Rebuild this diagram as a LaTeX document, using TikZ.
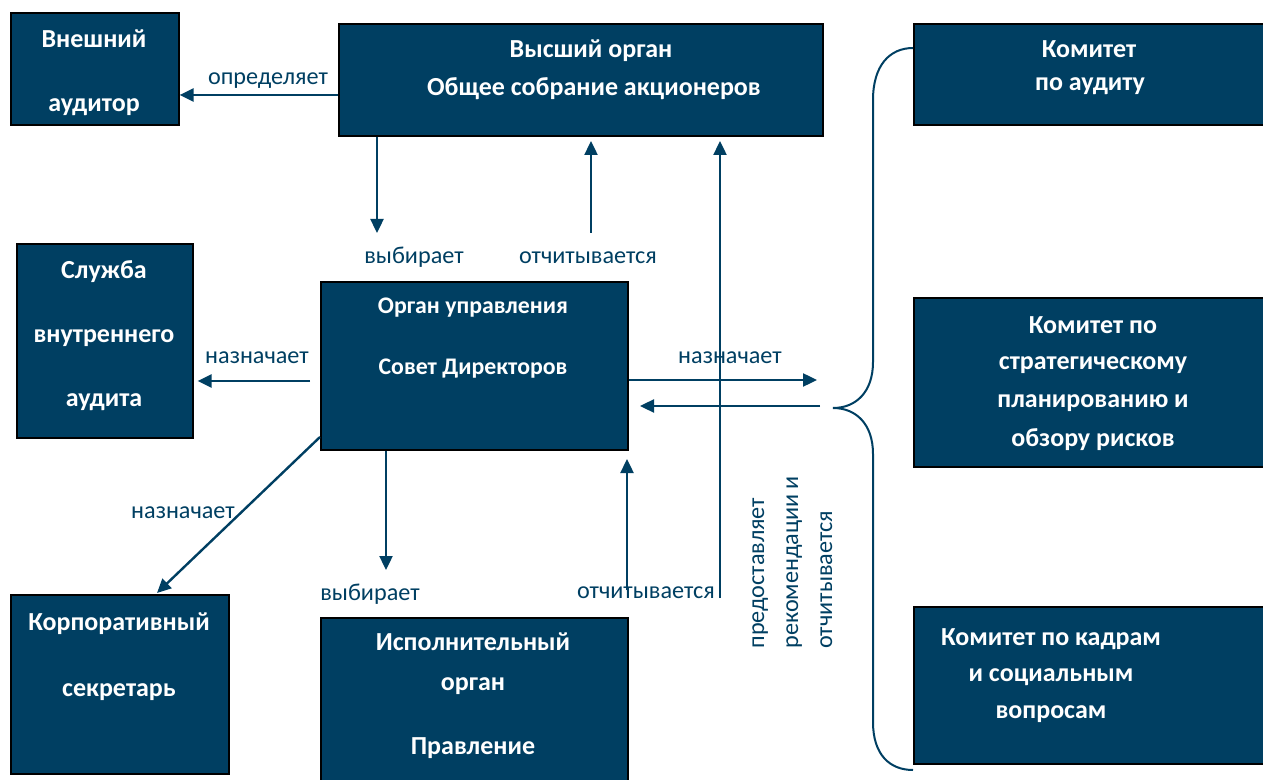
\documentclass[tikz,border=0pt]{standalone}
\usepackage{fontspec}
\setmainfont{Carlito}
\usetikzlibrary{arrows.meta}
\definecolor{navy}{RGB}{0,63,98}
\begin{document}
\begin{tikzpicture}[x=0.5pt,y=-0.5pt,
 box/.style={draw=black,line width=0.8pt,fill=navy,anchor=north west,inner sep=0pt},
 bt/.style={text=white,font=\bfseries\fontsize{13}{15}\selectfont,anchor=base,inner sep=0pt,yshift=-1pt},
 bts/.style={bt,font=\bfseries\fontsize{11.9}{14}\selectfont},
 lbl/.style={text=navy,font=\fontsize{12.1}{14}\selectfont,anchor=base,inner sep=0pt},
 arr/.style={draw=navy,line width=1.2pt,-{Triangle[length=7pt,width=6.5pt]}},
]
\useasboundingbox (0,0) rectangle (1263,780);

% boxes
\node[box,minimum width=84pt,minimum height=56pt] (ext) at (10,12) {};
\node[box,minimum width=242pt,minimum height=56pt] (top) at (338,23) {};
\node[box,minimum width=177pt,minimum height=50.5pt] (ca) at (913,23) {};
\node[box,minimum width=177pt,minimum height=84.5pt] (cs) at (913,297) {};
\node[box,minimum width=177pt,minimum height=78.5pt] (ck) at (913,606) {};
\node[box,minimum width=88pt,minimum height=97pt] (sia) at (16,243) {};
\node[box,minimum width=153.5pt,minimum height=84pt] (sov) at (320,281) {};
\node[box,minimum width=109pt,minimum height=89.5pt] (sec) at (10,594) {};
\node[box,minimum width=153.5pt,minimum height=82pt] (exe) at (320,617) {};

% box texts
\node[bt] (ext1) at (94,46) {Внешний};
\node[bt] (ext2) at (94,110) {аудитор};
\node[bt] (top1) at (591,56) {Высший орган};
\node[bt] (top2) at (594,94) {Общее собрание акционеров};
\node[bt] (ca1) at (1089,56) {Комитет};
\node[bt] (ca2) at (1090,89) {по аудиту};
\node[bt] (cs1) at (1093,332) {Комитет по};
\node[bt] (cs2) at (1093,368) {стратегическому};
\node[bt] (cs3) at (1093,406) {планированию и};
\node[bt] (cs4) at (1093,444) {обзору рисков};
\node[bt] (ck1) at (1051,643) {Комитет по кадрам};
\node[bt] (ck2) at (1051,679) {и социальным};
\node[bt] (ck3) at (1051,716) {вопросам};
\node[bt] (sia1) at (104,277) {Служба};
\node[bt] (sia2) at (104,341) {внутреннего};
\node[bt] (sia3) at (104,405) {аудита};
\node[bts] (sov1) at (473,312) {Орган управления};
\node[bts] (sov2) at (473,373) {Совет Директоров};
\node[bt] (sec1) at (119,628) {Корпоративный};
\node[bt] (sec2) at (119,694) {секретарь};
\node[bt] (exe1) at (473,648) {Исполнительный};
\node[bt] (exe2) at (473,688) {орган};
\node[bt] (exe3) at (473,752) {Правление};

% helper coordinates
\coordinate (a1) at (0,95);
\coordinate (v1) at (377,233);
\coordinate (r1) at (591,233);
\coordinate (r1t) at (591,141);
\coordinate (l1) at (720,598);
\coordinate (l1t) at (720,141);
\coordinate (h1) at (0,381);
\coordinate (n1) at (817,380);
\coordinate (b1) at (820,406);
\coordinate (b1t) at (640,406);
\coordinate (d1) at (320,437);
\coordinate (d1t) at (157,593);
\coordinate (v2) at (386,570);
\coordinate (u2) at (627,590);
\coordinate (u2t) at (627,459);

% connectors
\draw[arr] (top.west |- a1) -- (ext.east |- a1);
\draw[arr] (top.south -| v1) -- (v1);
\draw[arr] (r1) -- (r1t);
\draw[arr] (l1) -- (l1t);
\draw[arr] ([xshift=-5pt]sov.west |- h1) -- ([xshift=2pt]sia.east |- h1);
\draw[arr] (sov.east |- n1) -- (n1);
\draw[arr] (b1) -- (b1t);
\draw[arr] (d1) -- (d1t);
\draw[arr] (sov.south -| v2) -- (v2);
\draw[arr] (u2) -- (u2t);

% labels
\node[lbl] (L1) at (268,85) {определяет};
\node[lbl] (L2) at (414,264) {выбирает};
\node[lbl] (L3) at (588,264) {отчитывается};
\node[lbl] (L4) at (257,364) {назначает};
\node[lbl] (L5) at (730,364) {назначает};
\node[lbl] (L6) at (183,518) {назначает};
\node[lbl] (L7) at (370,600) {выбирает};
\node[lbl] (L8) at (646,598) {отчитывается};
\node[text=navy,font=\fontsize{12.1}{17}\selectfont,rotate=90,align=left,anchor=north west,inner sep=0pt] (L9) at (752,649) {предоставляет\\рекомендации и\\отчитывается};

% brace
\draw[navy,line width=1pt] (ca.west |- 0,48) .. controls (890,48) and (873,65) .. (873,100) -- (873,362)
  .. controls (873,392) and (856,408) .. (833,408)
  .. controls (856,408) and (873,424) .. (873,454) -- (873,722)
  .. controls (873,755) and (890,770) .. (913,770);
\end{tikzpicture}
\end{document}
